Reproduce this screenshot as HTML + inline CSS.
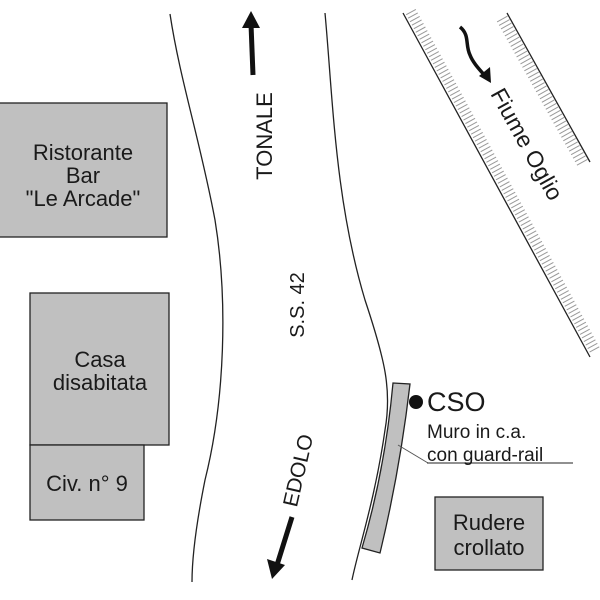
<!DOCTYPE html>
<html><head><meta charset="utf-8"><style>
html,body{margin:0;padding:0;background:#fff}
svg{display:block}
text{font-family:"Liberation Sans",sans-serif;fill:#1a1a1a}
</style></head><body>
<svg id="s" width="600" height="600" viewBox="0 0 600 600" xmlns="http://www.w3.org/2000/svg">
<g fill="#c0c0c0" stroke="#222" stroke-width="1.3">
<rect x="-2" y="103" width="169" height="134"/>
<rect x="30" y="293" width="139" height="152"/>
<rect x="30" y="445" width="114" height="75"/>
<rect x="435" y="497" width="108" height="73"/>
<path d="M393,383 L410,384 Q400,470 380,553 L362,548 Q385,470 393,383 Z"/>
</g>
<g fill="none" stroke="#222" stroke-width="1.3">
<path d="M170,14 C180,80 200,140 215,220 C228,300 225,400 205,480 C195,530 192,560 192,582"/>
<path d="M325,13 C333,100 335,200 365,300 C385,360 392,390 385,430 C375,500 358,550 352,580"/>
<line x1="403" y1="13" x2="590" y2="357"/>
<line x1="507" y1="13" x2="590" y2="162"/>
<line x1="398" y1="445" x2="428" y2="463" stroke="#555" stroke-width="1"/>
<line x1="427" y1="463" x2="573" y2="463" stroke-width="1"/>
</g>
<g id="ticks" stroke="#999" stroke-width="1"></g>
<circle cx="416" cy="402" r="7" fill="#111"/>
<g stroke="#111" stroke-width="5" fill="none">
<line x1="253" y1="75" x2="251" y2="24"/>
<line x1="292" y1="517" x2="277" y2="565"/>
<path d="M460,27 C470,35 465,45 470,55 C473,63 480,70 487,78" stroke-width="3.5"/>
</g>
<g fill="#111">
<polygon points="251,11 242,28 260,28"/>
<polygon points="272,579 267,559 285,565"/>
<polygon points="491,83 479,76 490,67"/>
</g>
<g font-size="22" text-anchor="middle">
<text x="83" y="160">Ristorante</text>
<text x="83" y="183">Bar</text>
<text x="83" y="206">"Le Arcade"</text>
<text x="100" y="367">Casa</text>
<text x="100" y="390">disabitata</text>
<text x="87" y="491">Civ. n° 9</text>
<text x="489" y="530">Rudere</text>
<text x="489" y="555">crollato</text>
</g>
<text font-size="22" text-anchor="middle" transform="translate(272,136) rotate(-90)">TONALE</text>
<text font-size="20" text-anchor="middle" transform="translate(304,305) rotate(-90)">S.S. 42</text>
<text font-size="21" text-anchor="middle" transform="translate(305,472) rotate(-77)">EDOLO</text>
<text font-size="23" text-anchor="middle" transform="translate(520,148) rotate(61)">Fiume Oglio</text>
<text x="427" y="411" font-size="27">CSO</text>
<text x="427" y="438" font-size="19">Muro in c.a.</text>
<text x="427" y="461" font-size="19">con guard-rail</text>
</svg>
<script>
var g=document.getElementById('ticks'),ns='http://www.w3.org/2000/svg';
function tk(x1,y1,x2,y2,sgn,off,len){var dx=x2-x1,dy=y2-y1,L=Math.hypot(dx,dy),ux=dx/L,uy=dy/L,nx=uy*sgn,ny=-ux*sgn;
for(var t=3;t<L-2;t+=4){var px=x1+ux*t,py=y1+uy*t;var l=document.createElementNS(ns,'line');
l.setAttribute('x1',px+nx*off);l.setAttribute('y1',py+ny*off);l.setAttribute('x2',px+nx*(off+len));l.setAttribute('y2',py+ny*(off+len));g.appendChild(l);}}
tk(403,13,590,357,1,2,11);
tk(507,13,590,162,-1,1,12);
</script>
</body></html>
